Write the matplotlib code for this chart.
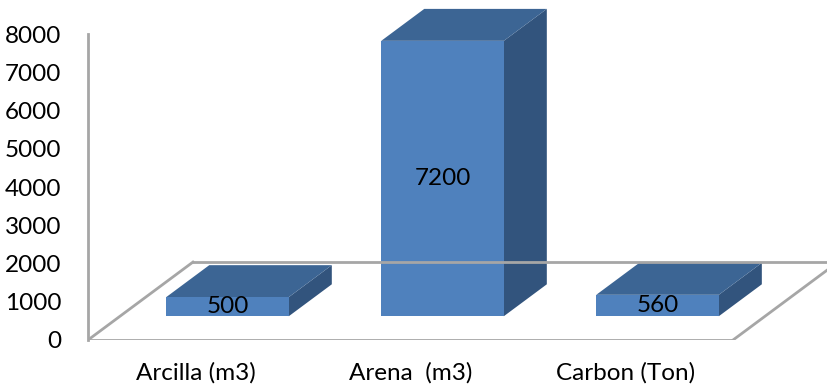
import matplotlib.pyplot as plt
from matplotlib.patches import Polygon

categories = ['Arcilla (m3)', 'Arena  (m3)', 'Carbon (Ton)']
values = [500, 7200, 560]
y_ticks = [0, 1000, 2000, 3000, 4000, 5000, 6000, 7000, 8000]

front_col = '#4f81bd'
top_col = '#3c6594'
side_col = '#32547d'
floor_col = '#a6a6a6'

# fake 3d: full floor depth moves this much in data units
depth_dx = 0.488
depth_dy = 2037
bar_d0 = 0.305
bar_d1 = 0.715
bar_w = 0.57


def proj(x, y, d):
    return (x + d * depth_dx, y + d * depth_dy)


fig = plt.figure(figsize=(8.27, 3.89), dpi=100)
ax = fig.add_axes([88 / 827, 49 / 389, 739 / 827, 340 / 389])
ax.set_xlim(-0.5, 2.937)
ax.set_ylim(0, 8889)

# floor outline
floor = [proj(-0.5, 0, 1), proj(3.0, 0, 1)]
ax.plot([p[0] for p in floor], [p[1] for p in floor], color=floor_col, lw=2, clip_on=True)
for xe in (-0.5, 2.5):
    a, b = proj(xe, 0, 0), proj(xe, 0, 1)
    ax.plot([a[0], b[0]], [a[1], b[1]], color=floor_col, lw=2)
ax.plot([-0.5, 2.5], [0, 0], color=floor_col, lw=2)

for i, v in enumerate(values):
    x0, x1 = i - bar_w / 2, i + bar_w / 2
    front = [proj(x0, 0, bar_d0), proj(x1, 0, bar_d0), proj(x1, v, bar_d0), proj(x0, v, bar_d0)]
    top = [proj(x0, v, bar_d0), proj(x1, v, bar_d0), proj(x1, v, bar_d1), proj(x0, v, bar_d1)]
    side = [proj(x1, 0, bar_d0), proj(x1, 0, bar_d1), proj(x1, v, bar_d1), proj(x1, v, bar_d0)]
    ax.add_patch(Polygon(side, closed=True, fc=side_col, ec='none'))
    ax.add_patch(Polygon(top, closed=True, fc=top_col, ec='none'))
    ax.add_patch(Polygon(front, closed=True, fc=front_col, ec='none'))
    cx, cy = proj(i, v / 2, bar_d0)
    ax.text(cx, cy, str(v), ha='center', va='center', fontsize=17.5, family='Lato')

ax.spines[['top', 'right', 'bottom']].set_visible(False)
ax.spines['left'].set_bounds(0, 8000)
ax.spines['left'].set_color(floor_col)
ax.spines['left'].set_linewidth(2)
ax.spines['left'].set_position(('data', -0.5))

ax.set_yticks(y_ticks)
ax.set_yticklabels([str(t) for t in y_ticks], family='Lato', fontsize=17.5)
ax.set_xticks(range(len(categories)))
ax.set_xticklabels(categories, family='Lato', fontsize=17.5)
ax.tick_params(axis='y', length=0, pad=19)
ax.tick_params(axis='x', length=0, pad=16)

fig.savefig('out.png', dpi=100)
